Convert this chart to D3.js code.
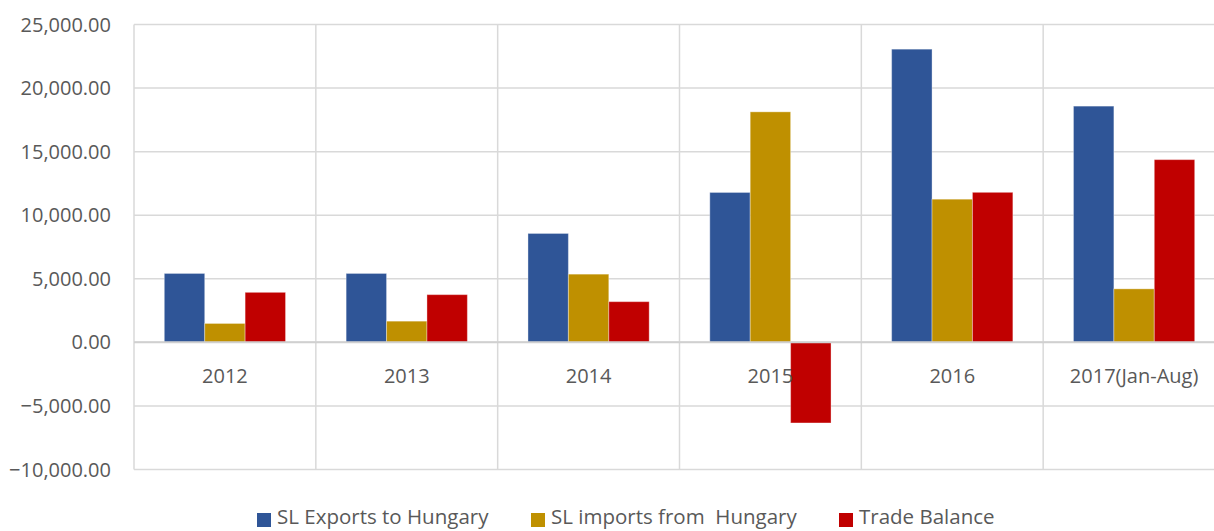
<!DOCTYPE html>
<html>
<head>
<meta charset="utf-8">
<script src="https://cdn.jsdelivr.net/npm/d3@7"></script>
<style>
  body { margin: 0; background: #fff; }
  svg text { font-family: "Open Sans", sans-serif; fill: #595959; }
</style>
</head>
<body>
<svg id="chart"></svg>
<script>
const years = ["2012", "2013", "2014", "2015", "2016", "2017(Jan-Aug)"];
const seriesNames = ["SL Exports to Hungary", "SL imports from  Hungary", "Trade Balance"];
const exportsVals = [5420, 5420, 8565, 11790, 23060, 18580];
const importsVals = [1486, 1667, 5364, 18130, 11260, 4208];
const balanceVals = [3934, 3753, 3201, -6340, 11800, 14372];
const yTicks = [-10000, -5000, 0, 5000, 10000, 15000, 20000, 25000];
const colors = ["#2F5597", "#BF9000", "#C00000"];

const width = 1214, height = 531;
const marginLeft = 134, marginTop = 24.5;
const plotRight = 1225, plotBottom = 469.5;

const svg = d3.select("#chart").attr("width", width).attr("height", height);

const x0 = d3.scaleBand().domain(years).range([marginLeft, plotRight]).padding(0);
const x1 = d3.scaleBand().domain(seriesNames)
    .range([x0.bandwidth() / 6, x0.bandwidth() * 5 / 6]).padding(0);
const y = d3.scaleLinear().domain([-10000, 25000]).range([plotBottom, marginTop]);

// horizontal grid
svg.append("g")
  .selectAll("line")
  .data(yTicks)
  .join("line")
    .attr("x1", marginLeft).attr("x2", plotRight)
    .attr("y1", d => y(d)).attr("y2", d => y(d))
    .attr("stroke", "#D9D9D9").attr("stroke-width", 1.5);

// vertical grid at category boundaries
const bounds = years.map(d => x0(d)).concat([plotRight]);
svg.append("g")
  .selectAll("line")
  .data(bounds)
  .join("line")
    .attr("x1", d => d).attr("x2", d => d)
    .attr("y1", marginTop).attr("y2", plotBottom)
    .attr("stroke", "#D9D9D9").attr("stroke-width", 1.5);

// y axis labels
const fmt = d3.format(",.2f");
svg.append("g")
  .selectAll("text")
  .data(yTicks)
  .join("text")
    .attr("x", 111).attr("y", d => y(d))
    .attr("dy", "0.35em")
    .attr("text-anchor", "end")
    .attr("font-size", 20)
    .text(d => fmt(d));

// bars
const rows = years.map((yr, i) => ({
  year: yr,
  vals: [exportsVals[i], importsVals[i], balanceVals[i]]
}));

svg.append("g")
  .selectAll("g")
  .data(rows)
  .join("g")
    .attr("transform", d => `translate(${x0(d.year)},0)`)
  .selectAll("rect")
  .data(d => d.vals.map((v, j) => ({name: seriesNames[j], v, j})))
  .join("rect")
    .attr("x", d => x1(d.name))
    .attr("width", x1.bandwidth())
    .attr("y", d => y(Math.max(0, d.v)))
    .attr("height", d => Math.abs(y(d.v) - y(0)))
    .attr("fill", d => colors[d.j])
    .attr("stroke", "rgba(255,255,255,0.35)")
    .attr("stroke-width", 1);

// zero line on top
svg.append("line")
  .attr("x1", marginLeft).attr("x2", plotRight)
  .attr("y1", y(0)).attr("y2", y(0))
  .attr("stroke", "#D0D0D0").attr("stroke-width", 2);

// category labels
svg.append("g")
  .selectAll("text")
  .data(years)
  .join("text")
    .attr("x", d => x0(d) + x0.bandwidth() / 2)
    .attr("y", 376)
    .attr("dy", "0.35em")
    .attr("text-anchor", "middle")
    .attr("font-size", 20)
    .text(d => d);

// legend
const legendX = [257, 531, 839];
const lg = svg.append("g")
  .selectAll("g")
  .data(seriesNames)
  .join("g")
    .attr("transform", (d, i) => `translate(${legendX[i]},0)`);
lg.append("rect")
  .attr("x", 0).attr("y", 513).attr("width", 14).attr("height", 14)
  .attr("fill", (d, i) => colors[i]);
lg.append("text")
  .attr("x", 20).attr("y", 517)
  .attr("dy", "0.35em")
  .attr("font-size", 20.5)
  .style("white-space", "pre")
  .text(d => d);
</script>
</body>
</html>
